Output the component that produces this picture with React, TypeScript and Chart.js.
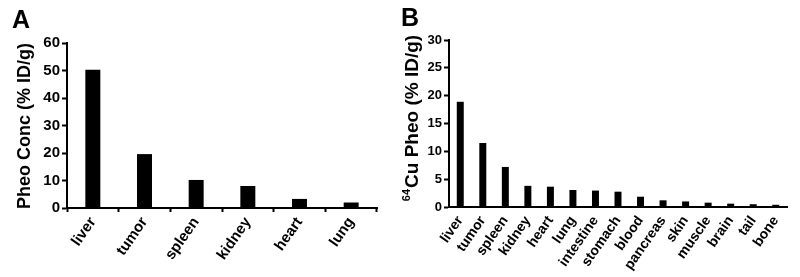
import React, { useEffect, useRef } from "react";
import { Chart, registerables } from "chart.js";

Chart.register(...registerables);

// ---- data ----
const organsA = ["liver", "tumor", "spleen", "kidney", "heart", "lung"];
const concA = [50.3, 19.6, 10.2, 8.0, 3.3, 2.0];
const yTicksA = [0, 10, 20, 30, 40, 50, 60];

const organsB = [
  "liver", "tumor", "spleen", "kidney", "heart", "lung", "intestine", "stomach",
  "blood", "pancreas", "skin", "muscle", "brain", "tail", "bone",
];
const uptakeB = [18.9, 11.5, 7.2, 3.8, 3.65, 3.05, 2.95, 2.75, 1.85, 1.2, 1.0, 0.78, 0.6, 0.5, 0.4];
const yTicksB = [0, 5, 10, 15, 20, 25, 30];

const FONT = "'Liberation Sans', Arial, Helvetica, sans-serif";

type PanelOpts = {
  labels: string[];
  values: number[];
  yTicks: number[];
  titleSup: string;
  titleMain: string;
  titleSize: number;
  titleX: number;
  titleY: number;
  tickSize: number;
  xTickSize: number;
  yWidth: number;
  xHeight: number;
  padTop: number;
  padRight: number;
  barFrac: number;
  xTickMarks: boolean;
};

// draws the rotated y-axis title (with an optional superscript prefix)
function yTitlePlugin(o: PanelOpts) {
  return {
    id: "yTitleText",
    afterDraw(chart: any) {
      const ctx = chart.ctx as CanvasRenderingContext2D;
      const mainFont = `bold ${o.titleSize}px ${FONT}`;
      const supSize = Math.round(o.titleSize * 0.58);
      const supFont = `bold ${supSize}px ${FONT}`;
      ctx.save();
      ctx.font = supFont;
      const wSup = o.titleSup ? ctx.measureText(o.titleSup).width + 1 : 0;
      ctx.font = mainFont;
      const wMain = ctx.measureText(o.titleMain).width;
      const total = wSup + wMain;
      ctx.translate(o.titleX, o.titleY);
      ctx.rotate(-Math.PI / 2);
      ctx.fillStyle = "#000";
      ctx.textBaseline = "middle";
      ctx.textAlign = "left";
      let x = -total / 2;
      if (o.titleSup) {
        ctx.font = supFont;
        ctx.fillText(o.titleSup, x, -o.titleSize * 0.33);
        x += wSup;
      }
      ctx.font = mainFont;
      ctx.fillText(o.titleMain, x, 0);
      ctx.restore();
    },
  };
}

function makeConfig(o: PanelOpts): any {
  const yMax = o.yTicks[o.yTicks.length - 1];
  return {
    type: "bar",
    data: {
      labels: o.labels,
      datasets: [
        {
          data: o.values,
          backgroundColor: "#000",
          borderWidth: 0,
          barPercentage: 1,
          categoryPercentage: o.barFrac,
        },
      ],
    },
    plugins: [yTitlePlugin(o)],
    options: {
      responsive: false,
      animation: false,
      layout: { padding: { left: 0, top: o.padTop, right: o.padRight, bottom: 0 } },
      plugins: { legend: { display: false }, tooltip: { enabled: false }, title: { display: false } },
      scales: {
        x: {
          type: "category",
          offset: true,
          grid: {
            display: o.xTickMarks,
            drawOnChartArea: false,
            drawTicks: true,
            offset: true,
            tickLength: 4,
            tickColor: "#000",
            tickWidth: 2,
          },
          border: { display: true, color: "#000", width: 2 },
          ticks: {
            autoSkip: false,
            minRotation: 55,
            maxRotation: 55,
            padding: 2,
            color: "#000",
            font: { family: FONT, size: o.xTickSize, weight: "bold" },
          },
          afterFit: (s: any) => {
            s.height = o.xHeight;
          },
        },
        y: {
          min: 0,
          max: yMax,
          grid: {
            display: true,
            drawOnChartArea: false,
            drawTicks: true,
            tickLength: 5,
            tickColor: "#000",
            tickWidth: 2,
          },
          border: { display: true, color: "#000", width: 2 },
          ticks: {
            padding: 2,
            color: "#000",
            font: { family: FONT, size: o.tickSize, weight: "bold" },
          },
          afterBuildTicks: (s: any) => {
            s.ticks = o.yTicks.map((v) => ({ value: v }));
          },
          afterFit: (s: any) => {
            s.width = o.yWidth;
          },
          title: { display: false },
        },
      },
    },
  };
}

function Panel({ opts, left }: { opts: PanelOpts; left: number }) {
  const ref = useRef<HTMLCanvasElement | null>(null);
  useEffect(() => {
    if (!ref.current) return;
    const chart = new Chart(ref.current, makeConfig(opts));
    return () => chart.destroy();
  }, []);
  return (
    <canvas
      ref={ref}
      width={400}
      height={277}
      style={{ position: "absolute", left, top: 0, width: 400, height: 277 }}
    />
  );
}

const panelA: PanelOpts = {
  labels: organsA,
  values: concA,
  yTicks: yTicksA,
  titleSup: "",
  titleMain: "Pheo Conc (% ID/g)",
  titleSize: 18,
  titleX: 25,
  titleY: 126,
  tickSize: 15,
  xTickSize: 15,
  yWidth: 67,
  xHeight: 69,
  padTop: 43,
  padRight: 23,
  barFrac: 0.29,
  xTickMarks: true,
};

const panelB: PanelOpts = {
  labels: organsB,
  values: uptakeB,
  yTicks: yTicksB,
  titleSup: "64",
  titleMain: "Cu Pheo (% ID/g)",
  titleSize: 19,
  titleX: 13,
  titleY: 118,
  tickSize: 13,
  xTickSize: 14,
  yWidth: 49,
  xHeight: 70,
  padTop: 40,
  padRight: 13,
  barFrac: 0.31,
  xTickMarks: false,
};

const letterStyle: React.CSSProperties = {
  position: "absolute",
  fontFamily: FONT,
  fontWeight: "bold",
  fontSize: 25,
  lineHeight: "25px",
  color: "#000",
};

export default function App() {
  return (
    <div
      style={{
        position: "fixed",
        left: 0,
        top: 0,
        width: 800,
        height: 277,
        background: "#fff",
        overflow: "hidden",
      }}
    >
      <Panel opts={panelA} left={0} />
      <Panel opts={panelB} left={400} />
      <div style={{ ...letterStyle, left: 12, top: 7 }}>A</div>
      <div style={{ ...letterStyle, left: 401, top: 5 }}>B</div>
    </div>
  );
}
